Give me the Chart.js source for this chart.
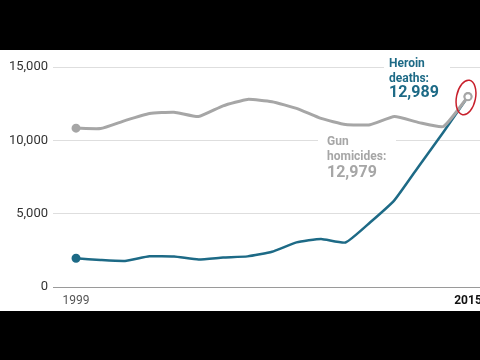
<!DOCTYPE html>
<html>
<head>
<meta charset="utf-8">
<script src="https://cdn.jsdelivr.net/npm/chart.js@4/dist/chart.umd.min.js"></script>
<style>
html,body{margin:0;padding:0;background:#000;}
#wrap{position:absolute;left:0;top:0;width:480px;height:360px;}
</style>
</head>
<body>
<div id="wrap"><canvas id="c" width="480" height="360"></canvas></div>
<script>
const years = [1999,2000,2001,2002,2003,2004,2005,2006,2007,2008,2009,2010,2011,2012,2013,2014,2015];
const gunHomicides = [10828,10801,11348,11829,11920,11624,12352,12791,12632,12179,11493,11078,11068,11622,11208,10945,12979];
const heroinDeaths = [1960,1842,1779,2089,2080,1878,2009,2088,2399,3041,3278,3036,4397,5925,8257,10574,12989];
const yTicks = [0,5000,10000,15000];
const xTicks = [1999,2015];

const TEAL = '#1d6a86';
const GRAY = '#a6a6a6';
const FONT = 'Roboto, "Liberation Sans", sans-serif';

function pts(arr){ return arr.map((v,i)=>({x:years[i], y:v})); }
function radii(){ return years.map((y,i)=> (i===0 || i===years.length-1) ? 3.5 : 0); }

const bands = {
  id:'bands',
  beforeDraw(chart){
    const ctx = chart.ctx;
    ctx.save();
    ctx.fillStyle = '#000';
    ctx.fillRect(0,0,480,360);
    ctx.fillStyle = '#fff';
    ctx.fillRect(0,50,480,261);
    ctx.restore();
  },
  beforeDatasetsDraw(chart){
    const ctx = chart.ctx;
    ctx.save();
    ctx.fillStyle = '#fff';
    const ys = chart.scales.y;
    ctx.fillRect(384, ys.getPixelForValue(15000)-3, 66, 6);
    ctx.fillRect(318, ys.getPixelForValue(10000)-3, 78, 6);
    ctx.restore();
  },
  afterDatasetsDraw(chart){
    const ctx = chart.ctx;
    ctx.save();
    ctx.textAlign = 'left';
    ctx.textBaseline = 'alphabetic';
    ctx.fillStyle = TEAL;
    ctx.font = 'bold 12px ' + FONT;
    ctx.fillText('Heroin', 389, 67);
    ctx.fillText('deaths:', 389, 82);
    ctx.font = 'bold 16px ' + FONT;
    ctx.fillText('12,989', 389, 97);
    ctx.fillStyle = GRAY;
    ctx.font = 'bold 12px ' + FONT;
    ctx.fillText('Gun', 327, 145);
    ctx.fillText('homicides:', 327, 160);
    ctx.font = 'bold 16px ' + FONT;
    ctx.fillText('12,979', 327, 177);
    const xs = chart.scales.x, ys = chart.scales.y;
    const cx = xs.getPixelForValue(2015) - 2, cy = ys.getPixelForValue(12989) + 1;
    ctx.strokeStyle = '#c8202c';
    ctx.lineWidth = 1.5;
    ctx.beginPath();
    ctx.ellipse(cx, cy, 9.5, 17.5, 0.2, 0, Math.PI*2);
    ctx.stroke();
    ctx.restore();
  }
};

new Chart(document.getElementById('c'), {
  type:'line',
  data:{
    datasets:[
      {
        label:'Heroin deaths',
        data: pts(heroinDeaths),
        borderColor: TEAL,
        borderWidth: 2.5,
        pointRadius: radii(),
        pointBackgroundColor: years.map((y,i)=> i===0 ? TEAL : '#fff'),
        pointBorderColor: years.map((y,i)=> i===0 ? TEAL : GRAY),
        pointBorderWidth: 2,
        tension: 0.15,
        order: 1
      },
      {
        label:'Gun homicides',
        data: pts(gunHomicides),
        borderColor: GRAY,
        borderWidth: 3,
        pointRadius: radii(),
        pointBackgroundColor: years.map((y,i)=> i===0 ? GRAY : '#fff'),
        pointBorderColor: GRAY,
        pointBorderWidth: 2,
        tension: 0.15,
        order: 0
      }
    ]
  },
  options:{
    responsive:false,
    animation:false,
    devicePixelRatio:1,
    layout:{autoPadding:false, padding:{top:67,right:0,bottom:0,left:0}},
    plugins:{legend:{display:false},tooltip:{enabled:false}},
    scales:{
      x:{
        type:'linear',
        min:1998.06,
        max:2015.49,
        grid:{display:false},
        border:{display:false},
        afterBuildTicks(s){ s.ticks = xTicks.map(v=>({value:v})); },
        afterFit(s){ s.height = 73; s.paddingLeft = 0; s.paddingRight = 0; },
        ticks:{
          padding:-1,
          maxRotation:0,
          autoSkip:false,
          font:(c)=>({family:FONT, size:12, weight: c.tick && c.tick.value===2015 ? 'bold' : 'normal'}),
          color:(c)=> c.tick && c.tick.value===2015 ? '#111' : '#555',
          callback:(v)=> String(v)
        }
      },
      y:{
        min:0,
        max:15000,
        afterBuildTicks(s){ s.ticks = yTicks.map(v=>({value:v})); },
        afterFit(s){ s.width = 53; s.paddingTop = 0; s.paddingBottom = 0; },
        border:{display:false},
        grid:{
          color:(c)=> c.tick && c.tick.value===0 ? '#9a9a9a' : '#dedede',
          lineWidth:1,
          drawTicks:false
        },
        ticks:{
          padding:5,
          color:'#333',
          font:{family:FONT, size:13},
          callback:(v)=> v.toLocaleString('en-US')
        }
      }
    }
  },
  plugins:[bands]
});
</script>
</body>
</html>
